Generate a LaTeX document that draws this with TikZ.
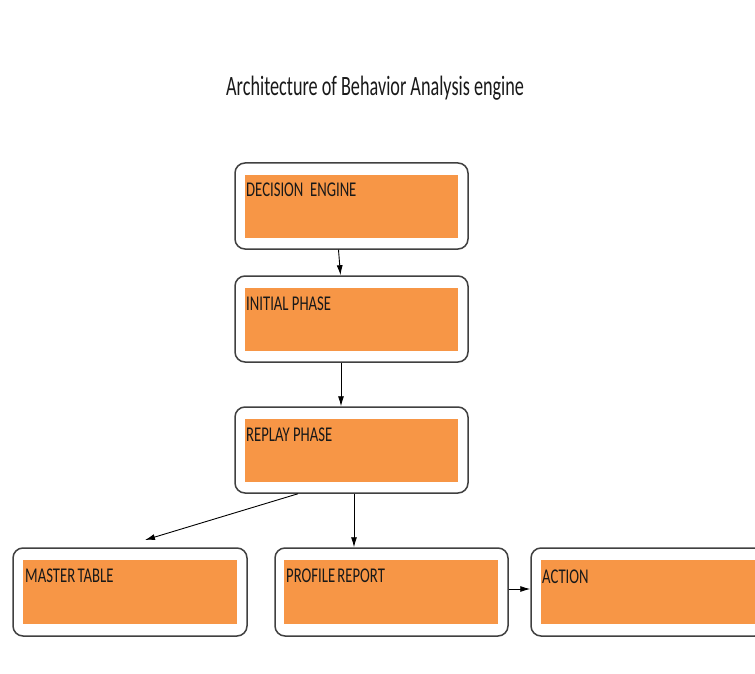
\documentclass[tikz,border=0pt]{standalone}
\usepackage{fontspec}
\setmainfont{Carlito}
\newfontfamily\cf[FakeStretch=0.7]{Carlito}
\newfontfamily\tf[FakeStretch=0.65]{Carlito}
\usetikzlibrary{arrows.meta}
\definecolor{boxorange}{HTML}{F79646}
\definecolor{boxline}{HTML}{404040}
\tikzset{
  outerbox/.style={draw=boxline, line width=1.5pt, rounded corners=10pt, fill=white, inner sep=0pt},
  innerbox/.style={fill=boxorange, draw=none, inner sep=0pt},
  lbl/.style={anchor=base west, inner sep=0pt, font=\cf\fontsize{21}{21}\selectfont, text=black!90},
  arr/.style={draw=black, line width=0.9pt, -{Latex[length=10pt,width=6pt]}}
}
\begin{document}
\begin{tikzpicture}[x=1pt,y=-1pt]
\useasboundingbox (0,0) rectangle (755,674);
\clip (0,0) rectangle (755,674);
\node[anchor=base west, inner sep=0pt, font=\tf\fontsize{28}{28}\selectfont, text=black!90] (title) at (226,96) {Architecture of Behavior Analysis engine};
% boxes
\node[outerbox, minimum width=233pt, minimum height=86pt] (b1) at (351.5,206) {};
\node[innerbox, minimum width=213pt, minimum height=63pt] (b1i) at (351.5,206.5) {};
\node[lbl] (t1) at (246,196.7) {DECISION\ \ ENGINE};
\node[outerbox, minimum width=233pt, minimum height=86pt] (b2) at (351.5,319) {};
\node[innerbox, minimum width=213pt, minimum height=63pt] (b2i) at (351.5,319.5) {};
\node[lbl] (t2) at (246,310) {INITIAL\ PHASE};
\node[outerbox, minimum width=233pt, minimum height=86pt] (b3) at (351.5,450) {};
\node[innerbox, minimum width=213pt, minimum height=63pt] (b3i) at (351.5,450.5) {};
\node[lbl] (t3) at (246,441) {REPLAY PHASE};
\node[outerbox, minimum width=234pt, minimum height=88pt] (m) at (130,592) {};
\node[innerbox, minimum width=214pt, minimum height=64pt] (mi) at (130,592) {};
\node[lbl] (tm) at (25,582) {MASTER\kern-1pt\ TABLE};
\node[outerbox, minimum width=233pt, minimum height=88pt] (p) at (391.5,592) {};
\node[innerbox, minimum width=214pt, minimum height=64pt] (pi) at (391,592) {};
\node[lbl] (tp) at (286,582) {PROFILE\kern-1pt\ REPORT};
\node[outerbox, minimum width=234pt, minimum height=88pt] (a) at (648,592) {};
\node[innerbox, minimum width=214pt, minimum height=64pt] (ai) at (648,592) {};
\node[lbl] (ta) at (542,583) {ACTION};
% connectors
\coordinate (mt) at (145,540);
\draw[arr] ([xshift=-13pt]b1.south) -- ([xshift=-11pt]b2.north);
\draw[arr] ([xshift=-10.5pt]b2.south) -- ([xshift=-10.5pt]b3.north);
\draw[arr] ([xshift=-53.5pt]b3.south) -- (mt);
\draw[arr] ([xshift=2.5pt]b3.south) -- ([xshift=-37.5pt]p.north);
\draw[arr] ([yshift=3pt]p.east) -- ([yshift=3pt]a.west);
\end{tikzpicture}
\end{document}
